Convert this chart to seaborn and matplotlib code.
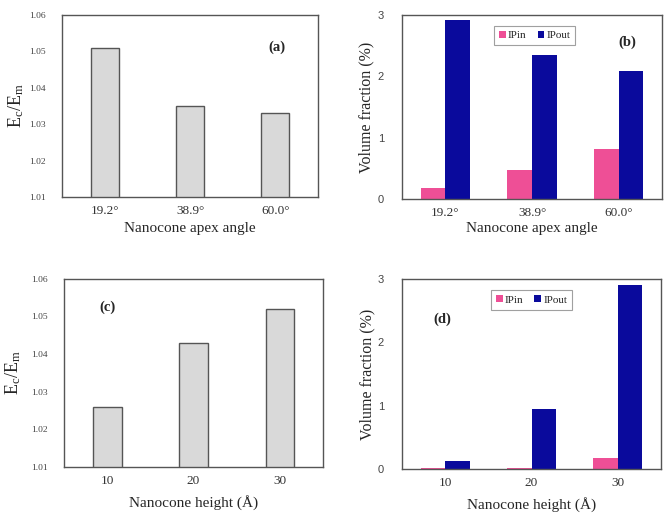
import matplotlib
matplotlib.use("Agg")
import matplotlib.pyplot as plt
import seaborn as sns
import pandas as pd

# ----------------------- data ------------------------------------------------
apex_angles = ["19.2°", "38.9°", "60.0°"]
apex_ratio = [1.051, 1.035, 1.033]
apex_ipin = [0.18, 0.47, 0.815]
apex_ipout = [2.91, 2.35, 2.08]

heights = ["10", "20", "30"]
height_ratio = [1.026, 1.043, 1.052]
height_ipin = [0.01, 0.01, 0.175]
height_ipout = [0.12, 0.945, 2.91]

GRAY_FILL = "#d9d9d9"
GRAY_EDGE = "#555555"
PINK = "#ee4f96"
NAVY = "#0a0a9c"

sns.set_theme(style="white")
plt.rcParams["font.family"] = ["Liberation Serif", "DejaVu Serif"]
plt.rcParams["mathtext.fontset"] = "custom"
plt.rcParams["mathtext.rm"] = "Liberation Serif"
plt.rcParams["mathtext.it"] = "Liberation Serif"


def style_axes(ax, ypad):
    for s in ax.spines.values():
        s.set_color("#555555")
        s.set_linewidth(1.0)
    ax.tick_params(axis="x", length=0, labelsize=9.5, colors="#333333", pad=6)
    ax.tick_params(axis="y", length=0, colors="#444444", pad=ypad)


def ratio_panel(ax, cats, vals, xlabel, tag, tag_xy, ylab_x, xlab_y):
    df = pd.DataFrame({"cat": cats, "val": vals})
    sns.barplot(data=df, x="cat", y="val", ax=ax, color=GRAY_FILL,
                edgecolor=GRAY_EDGE, linewidth=1.0, width=0.33, saturation=1)
    ax.set_ylim(1.01, 1.06)
    ticks = [1.01, 1.02, 1.03, 1.04, 1.05, 1.06]
    ax.set_yticks(ticks)
    ax.set_yticklabels([f"{v:.2f}" for v in ticks], fontsize=6.8)
    ax.set_xlabel(xlabel, fontsize=11)
    ax.set_ylabel(r"$\mathrm{E_c/E_m}$", fontsize=13)
    ax.yaxis.set_label_coords(ylab_x, 0.5)
    ax.xaxis.set_label_coords(0.5, xlab_y)
    ax.text(*tag_xy, tag, transform=ax.transAxes, fontsize=10.5, fontweight="bold",
            ha="center", va="center")
    style_axes(ax, 12)


def fraction_panel(ax, cats, ipin, ipout, xlabel, tag, tag_xy, leg_xy, ylab_x, xlab_y):
    df = pd.DataFrame({
        "cat": cats * 2,
        "val": ipin + ipout,
        "type": ["IPin"] * len(cats) + ["IPout"] * len(cats),
    })
    sns.barplot(data=df, x="cat", y="val", hue="type", ax=ax,
                palette=[PINK, NAVY], width=0.57, saturation=1, linewidth=0)
    ax.set_ylim(0, 3)
    ax.set_yticks([0, 1, 2, 3])
    ax.set_yticklabels(["0", "1", "2", "3"], fontsize=8,
                       family=["Liberation Sans", "DejaVu Sans"])
    ax.set_xlabel(xlabel, fontsize=11)
    ax.set_ylabel("Volume fraction (%)", fontsize=11.5)
    ax.yaxis.set_label_coords(ylab_x, 0.5)
    ax.xaxis.set_label_coords(0.5, xlab_y)
    ax.text(*tag_xy, tag, transform=ax.transAxes, fontsize=10.5, fontweight="bold",
            ha="center", va="center")
    leg = ax.legend(loc="upper center", bbox_to_anchor=leg_xy, ncol=2, fontsize=8,
                    frameon=True, fancybox=False, handlelength=0.6, handleheight=0.6,
                    handletextpad=0.2, columnspacing=1.0, borderpad=0.45)
    leg.get_frame().set_edgecolor("#888888")
    leg.get_frame().set_linewidth(0.8)
    style_axes(ax, 13)


fig = plt.figure(figsize=(6.68, 5.13), dpi=100)
ax_a = fig.add_axes([0.093, 0.616, 0.383, 0.355])
ax_b = fig.add_axes([0.602, 0.612, 0.389, 0.359])
ax_c = fig.add_axes([0.096, 0.090, 0.3875, 0.367])
ax_d = fig.add_axes([0.602, 0.086, 0.3875, 0.370])

ratio_panel(ax_a, apex_angles, apex_ratio, "Nanocone apex angle", "(a)", (0.84, 0.82),
            -0.142, -0.137)
fraction_panel(ax_b, apex_angles, apex_ipin, apex_ipout, "Nanocone apex angle",
               "(b)", (0.865, 0.85), (0.51, 0.97), -0.105, -0.125)
ratio_panel(ax_c, heights, height_ratio, "Nanocone height (Å)", "(c)", (0.166, 0.846),
            -0.158, -0.15)
fraction_panel(ax_d, heights, height_ipin, height_ipout, "Nanocone height (Å)",
               "(d)", (0.155, 0.79), (0.50, 0.97), -0.105, -0.149)

fig.savefig("out.png", dpi=100)
plt.close(fig)
